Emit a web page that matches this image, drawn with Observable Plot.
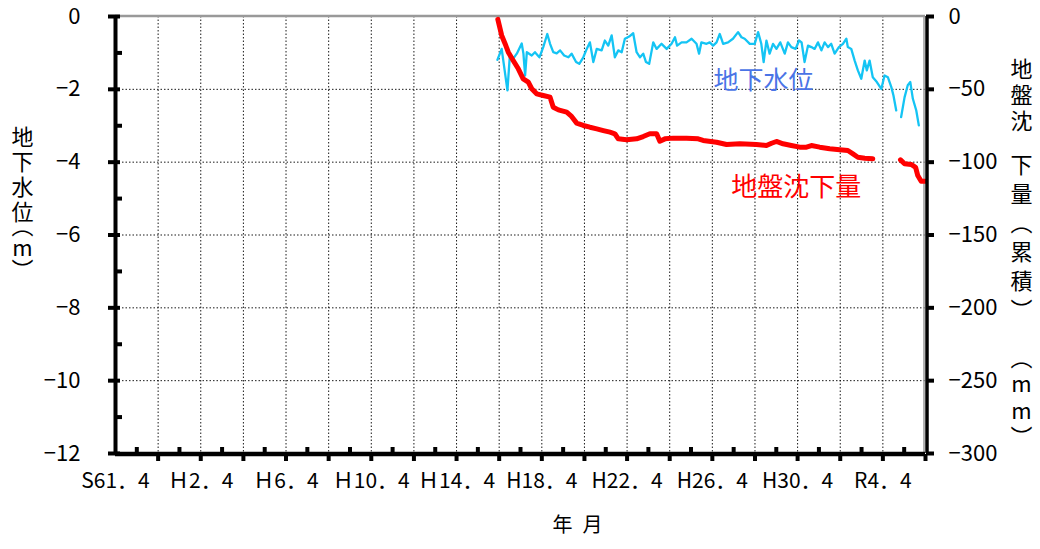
<!DOCTYPE html>
<html><head><meta charset="utf-8">
<script src="https://cdn.jsdelivr.net/npm/d3@7"></script>
<script src="https://cdn.jsdelivr.net/npm/@observablehq/plot@0.6"></script>
<style>body{margin:0;background:#fff} #chart svg{display:block}</style>
</head><body><div id="chart"></div>
<script>
// ---- data (x = decimal year, April = .333) ----
const xStart = 1986.333, xEnd = 2024.333;
const xLabelPos  = [1986.333, 1990.333, 1994.333, 1998.333, 2002.333, 2006.333, 2010.333, 2014.333, 2018.333, 2022.333];
const xLabelText = ["S61．4","Ｈ2．4","Ｈ6．4","Ｈ10．4","Ｈ14．4","H18．4","H22．4","H26．4","H30．4","R4．4"];
const xMajor = [1988.333,1990.333,1992.333,1994.333,1996.333,1998.333,2000.333,2002.333,2004.333,2006.333,2008.333,2010.333,2012.333,2014.333,2016.333,2018.333,2020.333,2022.333,2024.333];
const xMinor = [1987.333,1989.333,1991.333,1993.333,1995.333,1997.333,1999.333,2001.333,2003.333,2005.333,2007.333,2009.333,2011.333,2013.333,2015.333,2017.333,2019.333,2021.333,2023.333];
const yMajor = [0,-2,-4,-6,-8,-10,-12];
const yMinor = [-1,-3,-5,-7,-9,-11];
const MM_PER_M = 25; // right axis: 0..-300 mm  <->  left axis 0..-12 m

const gwYear = [
 2004.25,2004.45,2004.72,2004.84,2005.00,2005.16,2005.39,2005.47,2005.55,2005.63,
 2005.86,2006.01,2006.22,2006.40,2006.59,2006.72,2006.87,2007.03,2007.19,2007.38,
 2007.58,2007.73,2007.94,2008.09,2008.28,2008.44,2008.59,2008.75,2008.91,2009.14,
 2009.29,2009.45,2009.61,2009.76,2009.92,2010.08,2010.23,2010.43,2010.62,2010.78,
 2010.94,2011.09,2011.22,2011.37,2011.56,2011.72,2011.95,2012.19,2012.42,2012.58,
 2012.68,2012.89,2013.12,2013.36,2013.59,2013.71,2013.82,2014.06,2014.21,2014.37,
 2014.53,2014.68,2014.84,2015.07,2015.30,2015.54,2015.70,2015.85,2016.09,2016.32,
 2016.48,2016.63,2016.74,2016.87,2017.02,2017.18,2017.34,2017.52,2017.73,2017.88,
 2018.04,2018.24,2018.40,2018.52,2018.66,2018.82,2018.98,2019.13,2019.29,2019.45,
 2019.60,2019.76,2019.91,2020.07,2020.27,2020.46,2020.62,2020.69,2020.85,2021.01,
 2021.16,2021.32,2021.48,2021.58,2021.71,2021.86,2022.05,2022.26,2022.41,2022.57,
 2022.73,2022.83,2022.96,2023.08,2023.19,2023.35,2023.50,2023.62,2023.74,2023.90,
 2024.02];
const gwLevel = [
 -1.19,-0.89,-2.03,-1.02,-1.15,-1.02,-0.74,-1.02,-1.62,-0.98,
 -1.07,-0.98,-1.12,-0.84,-0.48,-0.75,-0.98,-1.01,-0.93,-1.07,
 -1.12,-1.02,-1.25,-1.30,-1.12,-0.89,-0.71,-1.25,-0.89,-0.93,
 -0.66,-0.80,-0.52,-1.12,-0.93,-0.98,-0.61,-0.55,-0.46,-0.98,
 -1.12,-1.02,-1.25,-1.30,-0.71,-0.89,-0.75,-0.89,-0.75,-0.57,
 -0.80,-0.71,-0.71,-0.61,-0.75,-1.02,-0.71,-0.75,-0.71,-0.80,
 -0.71,-0.48,-0.75,-0.71,-0.61,-0.43,-0.57,-0.61,-0.75,-0.75,
 -0.43,-0.75,-1.25,-0.66,-1.02,-0.75,-0.89,-0.71,-1.02,-0.71,
 -0.84,-0.89,-0.66,-0.71,-1.25,-0.80,-0.84,-0.89,-0.71,-0.93,
 -0.71,-0.84,-0.75,-1.02,-0.84,-0.75,-0.61,-0.84,-0.89,-1.21,
 -1.48,-1.71,-1.21,-1.48,-1.21,-1.67,-1.80,-1.99,-1.62,-1.67,
 -1.94,-2.17,-2.58,null,-2.76,-2.22,-1.89,-1.80,-2.26,-2.58,
 -2.99];

const subYear = [
 2004.27,2004.45,2004.61,2004.76,2004.99,2005.23,2005.46,2005.70,2005.86,2006.09,
 2006.40,2006.72,2006.87,2007.11,2007.50,2007.73,2007.97,2008.28,2008.59,2008.91,
 2009.22,2009.53,2009.76,2009.92,2010.31,2010.78,2011.09,2011.40,2011.72,2011.87,
 2012.11,2012.50,2013.12,2013.67,2013.90,2014.53,2015.00,2015.62,2016.40,2016.87,
 2017.11,2017.34,2017.65,2018.04,2018.43,2018.75,2018.98,2019.37,2019.84,2020.31,
 2020.69,2020.93,2021.16,2021.48,2021.86,2022.50,2023.16,2023.35,2023.66,2023.87,
 2023.97,2024.13,2024.33];
const subMM = [
 -2,-13.0,-18.7,-24.5,-30.2,-35.9,-42.8,-45.1,-49.6,-53.1,
 -54.2,-55.4,-62.3,-64.1,-65.7,-68.6,-73.2,-74.8,-76.0,-77.1,
 -78.3,-79.4,-80.5,-84.0,-84.6,-84.0,-82.4,-80.5,-80.5,-85.6,
 -84.0,-83.5,-83.5,-84.0,-85.1,-86.3,-87.9,-87.4,-87.9,-88.6,
 -87.0,-85.8,-87.4,-88.6,-89.7,-89.7,-88.6,-89.7,-90.8,-91.5,
 -92.0,-94.3,-96.6,-97.3,-97.7,null,-98.4,-101.1,-101.6,-103.5,
 -109.2,-113.1,-113.1];

const seriesNames = ["地下水位", "地盤沈下量"];
const seriesLabelYear = [2016.73, 2018.27];
const seriesLabelLevel = [-1.76, -4.70];

const leftTitleA = ["地","下","水","位"];
const leftTitleB = ["︵","m","︶"];
const rightTitleA = ["地","盤","沈"];
const rightTitleB = ["下","量","︵","累","積","︶"];
const rightTitleC = ["︵","m","m","︶"];
const xTitle = "年\u2002月";

// ---- build tables ----
const gw = gwYear.map((t, i) => ({t, v: gwLevel[i]}));
const sub = subYear.map((t, i) => ({t, v: subMM[i] == null ? null : subMM[i] / MM_PER_M}));
const labels = seriesNames.map((s, i) => ({s, t: seriesLabelYear[i], v: seriesLabelLevel[i]}));

const minus = d => (d < 0 ? "\u2212" + Math.abs(d) : String(d));
const FONT = '"Noto Sans CJK JP", "Noto Sans", sans-serif';

const vtext = (chars, anchor, dx, dy, lh) =>
  Plot.text([chars.join("\n")], {text: d => d, frameAnchor: anchor, dx, dy, lineHeight: lh,
    fontSize: 22, textAnchor: "middle", lineAnchor: "middle", fill: "#000"});

const chart = Plot.plot({
  width: 1040, height: 549,
  marginLeft: 115, marginRight: 115, marginTop: 16, marginBottom: 96,
  x: {domain: [xStart, xEnd], label: null},
  y: {domain: [-12, 0], label: null},
  style: {fontFamily: FONT, background: "#fff", color: "#000"},
  marks: [
    Plot.gridX(xMajor.slice(0, -1), {stroke: "#000", strokeOpacity: 0.9, strokeDasharray: "1.5,2"}),
    Plot.gridY(yMajor.slice(1, -1), {stroke: "#000", strokeOpacity: 0.9, strokeDasharray: "1.5,2"}),
    Plot.ruleY([0], {stroke: "#999", strokeWidth: 2.5, dy: -0.5}),
    Plot.ruleX([xEnd], {stroke: "#999", strokeWidth: 1.5, dx: -1.5}),
    Plot.line(gw, {x: "t", y: "v", stroke: "#14c4f4", strokeWidth: 2.3, strokeLinejoin: "round"}),
    Plot.line(sub, {x: "t", y: "v", stroke: "#ff0000", strokeWidth: 5, strokeLinejoin: "round", strokeLinecap: "round"}),
    Plot.text(labels, {x: "t", y: "v", text: "s",
      fontSize: (d, i) => (i === 0 ? 25 : 26),
      fill: (d, i) => (i === 0 ? "#4a74e6" : "#ff0000")}),
    // axis lines
    Plot.ruleX([xStart], {stroke: "#000", strokeWidth: 4}),
    Plot.ruleX([xEnd], {stroke: "#000", strokeWidth: 3.5, dx: 1.5}),
    Plot.ruleY([-12], {stroke: "#000", strokeWidth: 4.5, dy: 0.5}),
    // ticks
    Plot.axisY(yMajor, {anchor: "left", tickSize: 12, dx: 5, strokeWidth: 4, tickFormat: () => "", label: null}),
    Plot.axisY(yMinor, {anchor: "left", tickSize: 5, dx: 7, strokeWidth: 4, tickFormat: () => "", label: null}),
    Plot.axisY(yMajor, {anchor: "right", tickSize: 8, strokeWidth: 4, tickFormat: () => "", label: null}),
    Plot.axisX(xMajor, {anchor: "bottom", tickSize: 7, dy: 1, strokeWidth: 4, tickFormat: () => "", label: null}),
    Plot.axisX(xMinor, {anchor: "bottom", tickSize: 5, dy: -6, strokeWidth: 4, tickFormat: () => "", label: null}),
    // tick labels
    Plot.axisY(yMajor, {anchor: "left", tickSize: 0, tickPadding: 35, fontSize: 22, tickFormat: minus, label: null}),
    Plot.axisY(yMajor, {anchor: "right", tickSize: 0, tickPadding: 23, fontSize: 22,
      tickFormat: d => minus(Math.round(d * MM_PER_M)), label: null}),
    Plot.axisX(xLabelPos, {anchor: "bottom", tickSize: 0, tickPadding: 20, fontSize: 21,
      tickFormat: d => xLabelText[xLabelPos.indexOf(d)], label: null}),
    // titles
    Plot.text([xTitle], {text: d => d, frameAnchor: "bottom", dx: 57, dy: 78, fontSize: 20}),
    vtext(leftTitleA, "top-left", -93, 158, 1.14),
    vtext(leftTitleB, "top-left", -93, 232, 1.0),
    vtext(rightTitleA, "top-right", 96, 78, 1.18),
    vtext(rightTitleB, "top-right", 96, 219.5, 1.32),
    vtext(rightTitleC, "top-right", 96, 380.5, 1.2)
  ]
});
document.getElementById("chart").appendChild(chart);
</script>
</body></html>
